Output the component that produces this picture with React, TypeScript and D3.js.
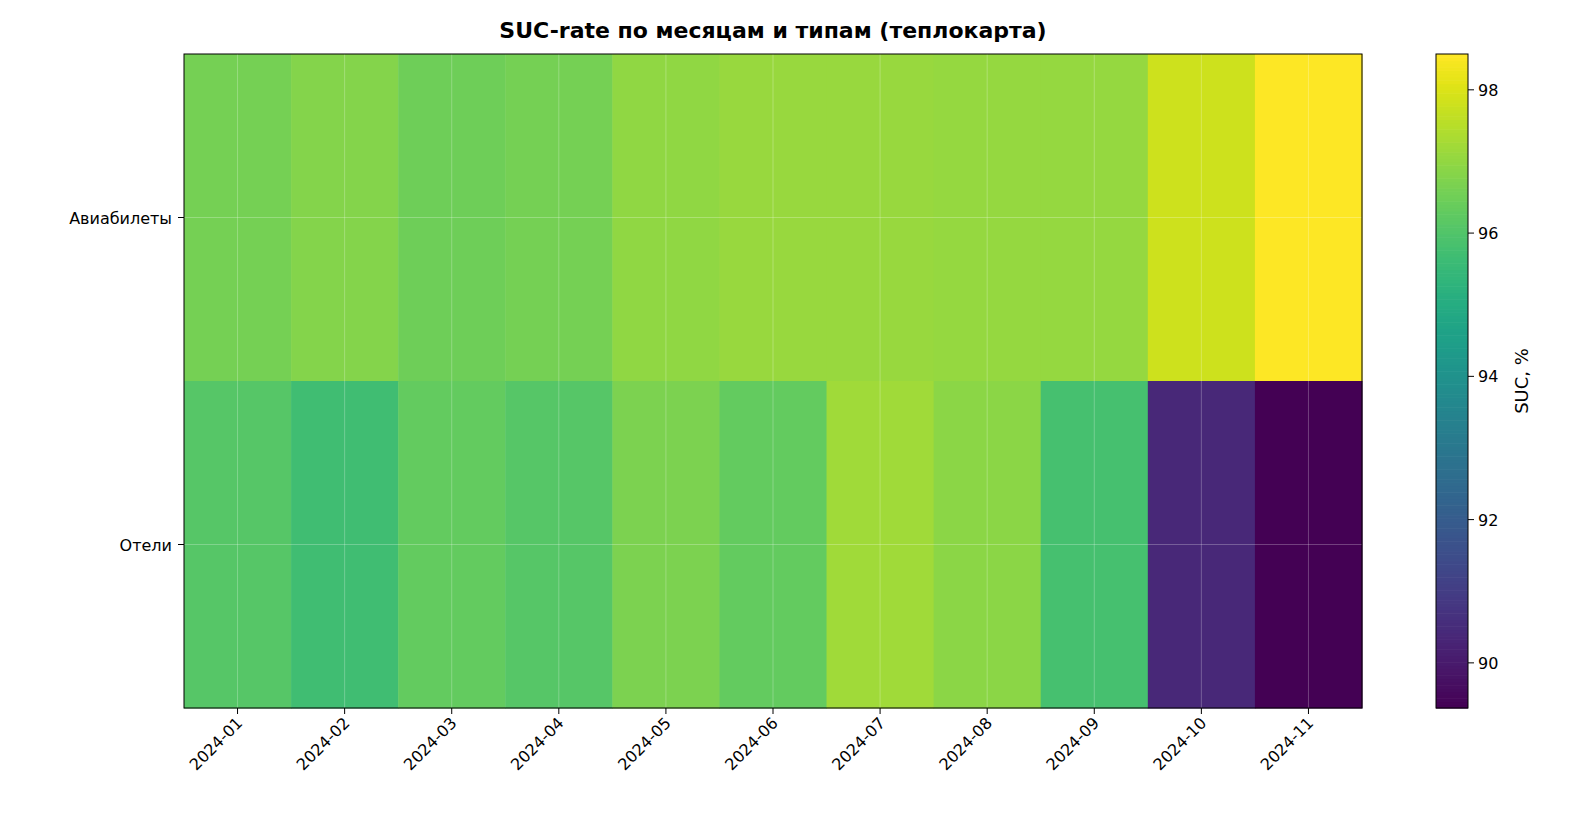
import React from 'react';
import * as d3 from 'd3';

const months = ['2024-01','2024-02','2024-03','2024-04','2024-05','2024-06','2024-07','2024-08','2024-09','2024-10','2024-11'];
const types = ['Авиабилеты', 'Отели'];
const aviaValues = [96.6, 96.8, 96.5, 96.6, 97.0, 97.1, 97.1, 97.05, 97.05, 97.8, 98.5];
const hotelValues = [96.1, 95.7, 96.3, 96.1, 96.7, 96.3, 97.2, 96.9, 95.8, 90.4, 89.37];
const cbTicks = [90, 92, 94, 96, 98];

const W = 1576, H = 832;
const left = 184, right = 1362, top = 54, bottom = 708;
const cbX = 1436, cbW = 32;

export default function App() {
  const rows = [aviaValues, hotelValues];
  const all = [...aviaValues, ...hotelValues];
  const vmin = d3.min(all)!, vmax = d3.max(all)!;
  const color = d3.scaleSequential(d3.interpolateViridis).domain([vmin, vmax]);
  const x = d3.scaleBand().domain(months).range([left, right]);
  const y = d3.scaleBand().domain(types).range([top, bottom]);
  const cy = d3.scaleLinear().domain([vmin, vmax]).range([bottom, top]);
  const font = 'DejaVu Sans, sans-serif';
  const steps = d3.range(0, 200);

  return (
    <svg width={W} height={H} style={{ position: 'absolute', left: 0, top: 0, fontFamily: font }}>
      <rect width={W} height={H} fill="#fff" />
      <text x={(left + right) / 2} y={38} textAnchor="middle" fontSize={22} fontWeight="bold">SUC-rate по месяцам и типам (теплокарта)</text>
      {rows.map((vals, r) => vals.map((v, i) => (
        <rect key={`${r}-${i}`} x={x(months[i])!} y={y(types[r])!} width={x.bandwidth() + 0.5} height={y.bandwidth() + 0.5} fill={color(v)} />
      )))}
      {months.map(m => {
        const cx = x(m)! + x.bandwidth() / 2;
        return (
          <g key={m}>
            <line x1={cx} x2={cx} y1={top} y2={bottom} stroke="#fff" strokeOpacity={0.25} />
            <line x1={cx} x2={cx} y1={bottom} y2={bottom + 6} stroke="#000" />
            <text transform={`translate(${cx + 6},${bottom + 16}) rotate(-45)`} textAnchor="end" fontSize={16}>{m}</text>
          </g>
        );
      })}
      {types.map(t => {
        const ty = y(t)! + y.bandwidth() / 2;
        return (
          <g key={t}>
            <line x1={left} x2={right} y1={ty} y2={ty} stroke="#fff" strokeOpacity={0.25} />
            <line x1={left - 6} x2={left} y1={ty} y2={ty} stroke="#000" />
            <text x={left - 12} y={ty + 6} textAnchor="end" fontSize={16}>{t}</text>
          </g>
        );
      })}
      <rect x={left} y={top} width={right - left} height={bottom - top} fill="none" stroke="#000" />
      {steps.map(s => {
        const v0 = vmin + (vmax - vmin) * s / steps.length;
        const v1 = vmin + (vmax - vmin) * (s + 1) / steps.length;
        return <rect key={s} x={cbX} y={cy(v1)} width={cbW} height={cy(v0) - cy(v1) + 0.6} fill={color((v0 + v1) / 2)} />;
      })}
      <rect x={cbX} y={top} width={cbW} height={bottom - top} fill="none" stroke="#000" />
      {cbTicks.map(t => (
        <g key={t}>
          <line x1={cbX + cbW} x2={cbX + cbW + 6} y1={cy(t)} y2={cy(t)} stroke="#000" />
          <text x={cbX + cbW + 10} y={cy(t) + 6} fontSize={16}>{t}</text>
        </g>
      ))}
      <text transform={`translate(${cbX + cbW + 60},${(top + bottom) / 2}) rotate(-90)`} textAnchor="middle" fontSize={18}>SUC, %</text>
    </svg>
  );
}
